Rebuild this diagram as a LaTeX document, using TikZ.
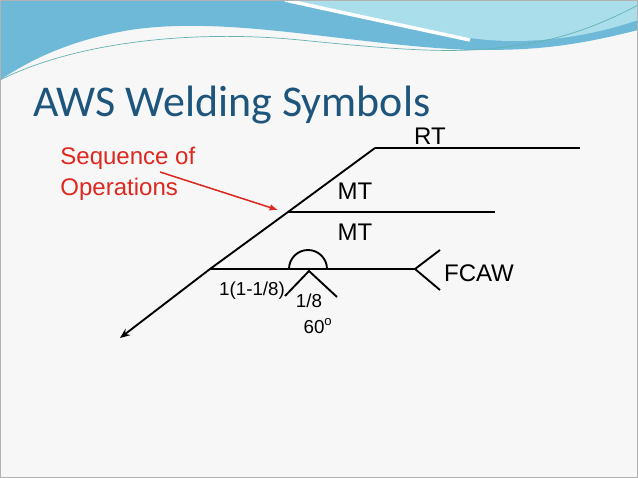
\documentclass[tikz,border=0pt]{standalone}
\usepackage{fontspec}
\setmainfont{Liberation Sans}
\newfontfamily\titlefont{Carlito}
\usetikzlibrary{arrows.meta, positioning}
\definecolor{wavedark}{RGB}{110,185,215}
\definecolor{wavelight}{RGB}{170,222,235}
\definecolor{titleblue}{RGB}{30,85,125}
\definecolor{seqred}{RGB}{220,40,30}

\begin{document}
\begin{tikzpicture}[
    x=0.03cm, y=-0.03cm,
    font=\fontsize{20.5}{24}\selectfont,
    weld/.style={line width=1.6pt, black},
    lbl/.style={inner sep=1pt},
    small/.style={lbl, font=\fontsize{16}{18}\selectfont},
    seq/.style={-{Latex[length=2.5mm, width=2mm]}, line width=1.3pt, color=seqred}
]
    % Slide background
    \useasboundingbox (0,0) rectangle (638,478);
    \fill[white!97!black] (0,0) rectangle (638,478);
    \fill[wavedark] (0,0) -- (638,0) -- (638,30) .. controls (560,50) and (520,50) .. (470,50)
        .. controls (350,45) and (230,15) .. (130,30) .. controls (70,40) and (30,60) .. (0,80) -- cycle;
    \fill[wavelight] (285,0) -- (638,0) -- (638,20) .. controls (580,40) and (520,45) .. (470,38)
        .. controls (400,25) and (330,10) .. (285,0) -- cycle;
    \draw[white, line width=3pt] (285,0) .. controls (330,10) and (400,25) .. (470,40);
    \draw[teal!60, line width=0.6pt] (0,80) .. controls (80,40) and (200,30) .. (300,40)
        .. controls (400,50) and (460,55) .. (520,45) .. controls (570,38) and (610,20) .. (638,5);
    \draw[gray!60, line width=0.5pt] (0.5,0.5) rectangle (637.5,477.5);

    % Title
    \node[anchor=base west, inner sep=0pt, text=titleblue, font=\titlefont\fontsize{37.5}{40}\selectfont] (title) at (33,116) {AWS Welding Symbols};

    % Arrow and reference lines
    \coordinate (tip) at (120,338);
    \coordinate (ref) at (210,269);
    \coordinate (mid) at (288,212);
    \coordinate (top) at (375,148);
    \coordinate (tail) at (415,269);
    \draw[weld, -{Stealth[length=3mm, width=2.4mm]}] (top) -- (mid) -- (ref) -- (tip);
    \draw[weld] (ref) -- (tail);
    \draw[weld] (mid) -- (495,212);
    \draw[weld] (top) -- (580,148);
    \draw[weld] (440,250) -- (tail) -- (440,290);

    % Weld symbols
    \draw[weld] (289,269) arc[start angle=180, end angle=360, x radius=19, y radius=19];
    \draw[weld] (285,296) -- (309,271) -- (337,297);

    % Labels
    \node[lbl] (rt) at (430,136) {RT};
    \node[lbl] (mt1) at (355,191) {MT};
    \node[lbl] (mt2) at (355,232) {MT};
    \node[lbl] (fcaw) at (479,273) {FCAW};
    \node[small] (size) at (252,291) {1(1-1/8)};
    \node[small] (root) at (309,301) {1/8};
    \node[small] (angle) at (318,326) {60\textsuperscript{o}};

    % Sequence note
    \node[lbl, anchor=north west, align=left, text=seqred, font=\fontsize{20.5}{26}\selectfont] (seqnote) at (59,146) {Sequence of\\Operations};
    \coordinate (seqstart) at (160,172);
    \draw[seq] (seqstart) -- (278,210);
\end{tikzpicture}
\end{document}
